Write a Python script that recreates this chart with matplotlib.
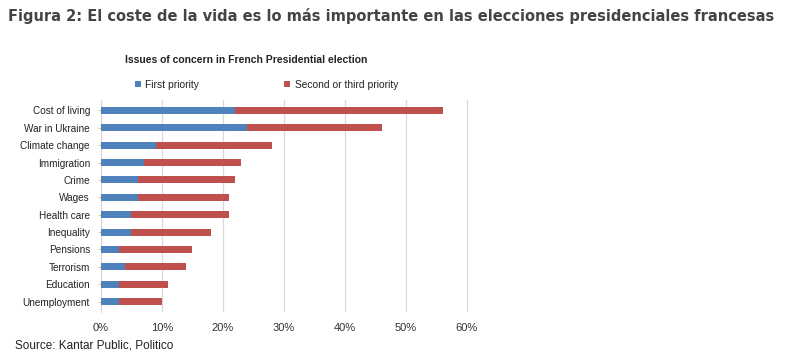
import matplotlib
matplotlib.use("Agg")
import matplotlib.pyplot as plt
from matplotlib.ticker import PercentFormatter

categories = ["Cost of living", "War in Ukraine", "Climate change", "Immigration", "Crime",
              "Wages", "Health care", "Inequality", "Pensions", "Terrorism", "Education",
              "Unemployment"]
first = [22, 24, 9, 7, 6, 6, 5, 5, 3, 4, 3, 3]
total = [56, 46, 28, 23, 22, 21, 21, 18, 15, 14, 11, 10]
second = [t - f for t, f in zip(total, first)]
xticks = [0, 10, 20, 30, 40, 50, 60]

plt.rcParams['font.family'] = ['Liberation Sans', 'DejaVu Sans']

fig = plt.figure(figsize=(7.94, 3.62), dpi=100)
ax = fig.add_axes([101 / 794, 1 - 312 / 362, 369 / 794, 212 / 362])

y = list(range(len(categories)))
blue = "#4F81BD"
red = "#C0504D"
ax.barh(y, first, height=0.4, color=blue, label="First priority", zorder=3)
ax.barh(y, second, left=first, height=0.4, color=red, label="Second or third priority", zorder=3)

ax.set_yticks(y)
ax.set_yticklabels(categories, fontsize=7.2, color="#222222")
ax.set_ylim(len(categories) - 0.4, -0.6)
ax.set_xlim(0, 60.5)
ax.set_xticks(xticks)
ax.xaxis.set_major_formatter(PercentFormatter(decimals=0))
ax.tick_params(axis='x', length=0, labelsize=8, labelcolor="#333333", pad=8)
ax.tick_params(axis='y', length=2, color="#f0c090", pad=6)
ax.grid(axis='x', color="#d9d9d9", linewidth=0.9, zorder=0)
for s in ["top", "right", "bottom"]:
    ax.spines[s].set_visible(False)
ax.spines["left"].set_color("#d9d9d9")

leg = fig.legend(loc="center left", bbox_to_anchor=(135 / 794, 1 - 85 / 362), ncol=2,
                 frameon=False, fontsize=7.4, handlelength=0.55, handleheight=0.55,
                 columnspacing=8.3, handletextpad=0.45, borderaxespad=0, borderpad=0)
for t in leg.get_texts():
    t.set_color("#222222")

fig.text(8 / 794, 1 - 16 / 362,
         "Figura 2: El coste de la vida es lo más importante en las elecciones presidenciales francesas",
         fontsize=10.5, fontweight="bold", color="#444444", va="center", ha="left",
         family=["DejaVu Sans Condensed", "DejaVu Sans"])
fig.text(246 / 794, 1 - 60 / 362, "Issues of concern in French Presidential election",
         fontsize=7.5, fontweight="bold", color="#222222", ha="center", va="center")
fig.text(15 / 794, 1 - 345 / 362, "Source: Kantar Public, Politico",
         fontsize=8.5, color="#222222", ha="left", va="center")

fig.savefig("out.png", dpi=100)
